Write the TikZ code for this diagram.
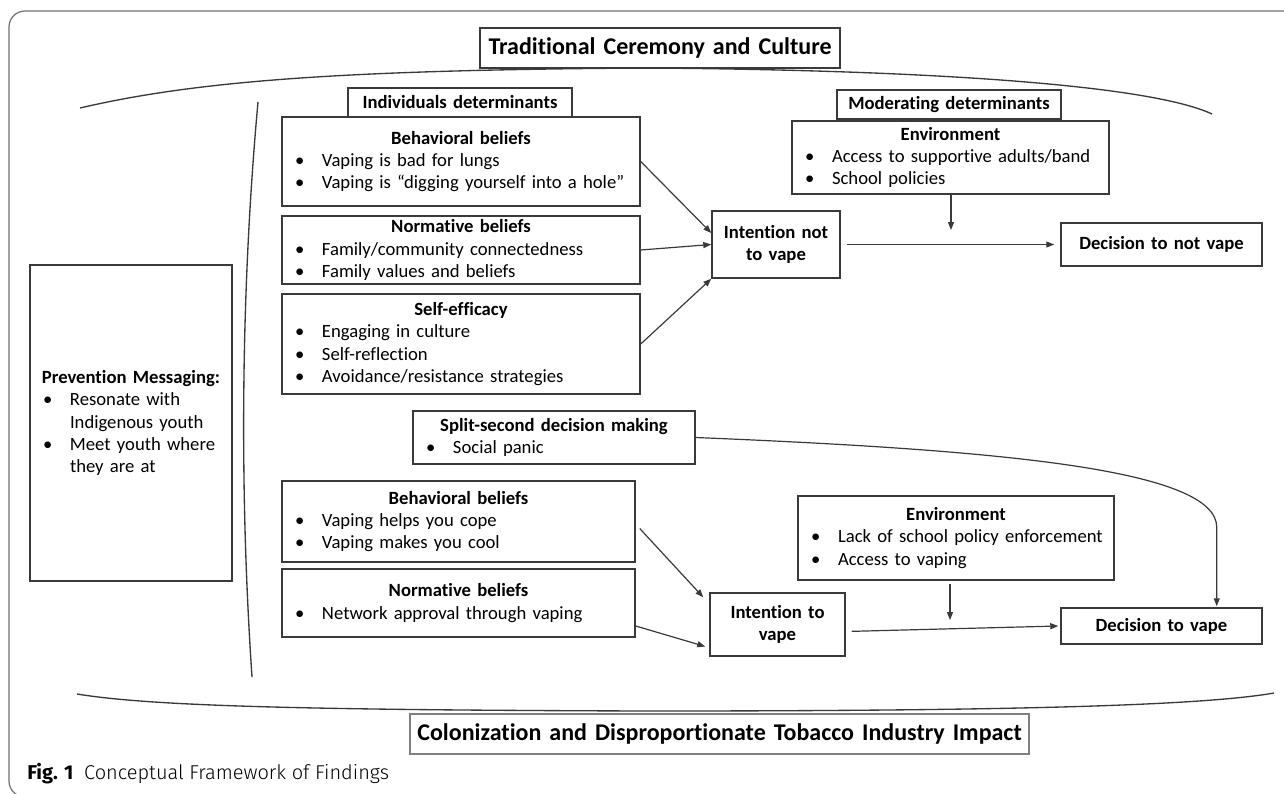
\documentclass[tikz,border=0pt]{standalone}
\usepackage{fontspec}
\setmainfont{Carlito}[Ligatures=NoCommon]
\newfontfamily\capfont{Fira Sans}[UprightFont=* Light, BoldFont=* Bold]
\usetikzlibrary{arrows.meta,calc}

\definecolor{linegray}{HTML}{3A3A3A}
\definecolor{framegray}{HTML}{707070}

% bullet line and centred heading inside a box
\newcommand{\itm}[1]{\hspace*{9.75pt}\makebox[20.25pt][l]{\textbullet}#1}
\newcommand{\hd}[1]{\makebox[\linewidth]{\textbf{#1}}}

\tikzset{%
        box/.style={
                draw=linegray,
                line width=1.1pt,
                fill=white,
                inner sep=0pt,
                align=left,
                font=\fontsize{14}{16.75}\selectfont
            },
        sz/.style 2 args={
                text width=#1*0.75pt,
                minimum width=#1*0.75pt,
                minimum height=#2*0.75pt
            },
        bigbox/.style={
                box,
                align=center,
                font=\fontsize{18}{21}\selectfont\bfseries
            },
        arr/.style={
                draw=linegray,
                line width=0.9pt,
                -{Triangle[length=6pt,width=4.5pt]}
            },
        brace/.style={
                draw=linegray,
                line width=1pt
            }
    }

\begin{document}
\begin{tikzpicture}[x=0.75pt, y=-0.75pt]
    \useasboundingbox (0,0) rectangle (1284,793);

    % frame and the two cultural context curves:
        \draw[framegray, line width=0.9pt, rounded corners=12pt] (1300,11) -- (9,11) -- (9,797) -- (1300,797);
        \draw[brace] (80,108) .. controls (200,80) and (350,70) .. (646,68) .. controls (930,70) and (1150,85) .. (1212,114);
        \draw[brace] (77,694) .. controls (150,706) and (300,710) .. (650,711) .. controls (1000,711) and (1200,706) .. (1274,693);
        \draw[brace] (258,102) .. controls (240,300) and (240,500) .. (252,677);

    % context boxes:
        \node [bigbox, sz={360}{40}]  (trad) at (660,48) {Traditional Ceremony and Culture};
        \node [bigbox, sz={619}{40}, draw=gray]  (colon) at (719.5,734) {Colonization and Disproportionate Tobacco Industry Impact};
        \node [box, sz={202}{316}]  (prev) at (131,423) {\hd{Prevention Messaging:}\\
            \itm{Resonate with}\\ \hspace*{30pt}Indigenous youth\\
            \itm{Meet youth where}\\ \hspace*{30pt}they are at};

    % not vaping:
        \node [box, sz={358}{89}]  (beh1) at (461,161.5) {\hd{Behavioral beliefs}\\
            \itm{Vaping is bad for lungs}\\
            \itm{Vaping is “digging yourself into a hole”}};
        \node [box, sz={224}{29}, align=center, font=\fontsize{14}{16.75}\selectfont\bfseries]  (indiv) at (460,102.5) {Individuals determinants};
        \node [box, sz={358}{68}]  (norm1) at (461,250) {\hd{Normative beliefs}\\
            \itm{Family/community connectedness}\\
            \itm{Family values and beliefs}};
        \node [box, sz={358}{100}]  (self) at (461,344) {\hd{Self-efficacy}\\
            \itm{Engaging in culture}\\
            \itm{Self-reflection}\\
            \itm{Avoidance/resistance strategies}};
        \node [box, sz={128}{67}, align=center, font=\fontsize{14}{17}\selectfont\bfseries]  (intnot) at (776,244.5) {Intention not\\to vape};
        \node [box, sz={317}{73}]  (env1) at (950.5,157.5) {\hd{Environment}\\
            \itm{Access to supportive adults/band}\\
            \itm{School policies}};
        \node [box, sz={224}{29}, align=center, font=\fontsize{14}{16.75}\selectfont\bfseries]  (moder) at (949,104.5) {Moderating determinants};
        \node [box, sz={201}{43}, align=center, font=\fontsize{14}{16.75}\selectfont\bfseries]  (decnot) at (1161.5,244.5) {Decision to not vape};
        \coordinate (cnot) at (951,230);

        \draw[arr] (beh1.east) -- ($(intnot.west)+(0,-11.5)$);
        \draw[arr] (norm1.east) -- (intnot.west);
        \draw[arr] (self.east) -- (intnot.south west);
        \draw[arr, shorten <=4.5pt, shorten >=4.5pt] (intnot.east) -- (decnot.west);
        \draw[arr] (env1.south -| cnot) -- (cnot);

    % vaping:
        \node [box, sz={282}{53}]  (split) at (554,437.5) {\hd{Split-second decision making}\\
            \itm{Social panic}};
        \node [box, sz={353}{81}]  (beh2) at (458.5,521.5) {\hd{Behavioral beliefs}\\
            \itm{Vaping helps you cope}\\
            \itm{Vaping makes you cool}};
        \node [box, sz={353}{68}]  (norm2) at (458.5,603) {\hd{Normative beliefs}\\
            \itm{Network approval through vaping}};
        \node [box, sz={135}{63}, align=center, font=\fontsize{14}{17}\selectfont\bfseries]  (intto) at (777.5,624.5) {Intention to\\vape};
        \node [box, sz={316}{84}]  (env2) at (956,538) {\hd{Environment}\\
            \itm{Lack of school policy enforcement}\\
            \itm{Access to vaping}};
        \node [box, sz={201}{36}, align=center, font=\fontsize{14}{16.75}\selectfont\bfseries]  (decto) at (1161.5,626) {Decision to vape};
        \coordinate (cto) at (950,620);

        \draw[arr] ($(beh2.east)+(4,7)$) -- ($(intto.north west)+(-6,5)$);
        \draw[arr] ($(norm2.east)+(0,23)$) -- ($(intto.west)+(-4,22)$);
        \draw[arr, shorten <=4.5pt] ($(intto.east)+(0,7)$) -- ($(decto.west)+(-2,0)$);
        \draw[arr] ($(env2.south -| cto)+(0,3)$) -- (cto);
        \draw[arr] (split.east) .. controls (1000,450) and ($(decto.north east)+(-46,-138)$) .. ($(decto.north east)+(-46,-80)$) -- ($(decto.north east)+(-46,-1)$);

    % caption:
        \node [anchor=west, inner sep=0pt, font=\capfont\fontsize{15}{18}\selectfont]  (cap) at (27,774) {\textbf{Fig. 1}\hspace{8pt}Conceptual Framework of Findings};
\end{tikzpicture}
\end{document}
